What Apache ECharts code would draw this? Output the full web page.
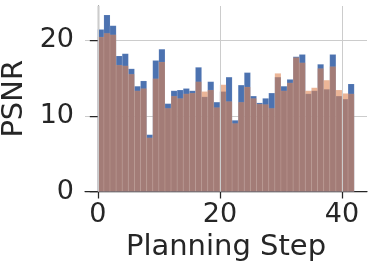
<!DOCTYPE html>
<html>
<head>
<meta charset="utf-8">
<script src="https://cdn.jsdelivr.net/npm/echarts@6/dist/echarts.min.js"></script>
<style>html,body{margin:0;padding:0;background:#fff}#c{width:374px;height:268px}</style>
</head>
<body>
<div id="c"></div>
<script>
// Bin left edges (Planning Step), bin width 1
const steps = [0,1,2,3,4,5,6,7,8,9,10,11,12,13,14,15,16,17,18,19,20,21,22,23,24,25,26,27,28,29,30,31,32,33,34,35,36,37,38,39,40,41];
const blueValues = [21.4,23.3,21.9,17.9,18.2,16.2,13.9,14.6,7.5,17.3,18.8,11.6,13.3,13.4,13.6,13.3,16.4,12.5,14.5,11.8,13.2,15.1,9.4,14.05,15.7,12.6,11.7,12.3,13.0,15.1,13.9,14.8,17.8,18.1,12.9,13.3,16.8,13.5,18.1,12.6,12.2,14.2];
const orangeValues = [20.4,20.9,20.7,16.7,16.6,15.5,13.3,13.6,7.1,14.9,17.1,11.0,12.6,12.3,12.9,13.0,14.5,13.2,13.4,11.1,14.1,11.9,9.0,11.8,13.8,12.3,11.55,11.5,11.0,15.6,13.3,14.35,17.7,17.0,13.3,13.7,16.25,14.7,16.5,13.4,12.95,12.9];
const xTicks = [0,20,40];
const yTicks = [0,10,20];
const xLabel = 'Planning Step';
const yLabel = 'PSNR';

const font = 'DejaVu Sans';
const textColor = '#262626';
const gridColor = '#cccccc';

function histItem(color, opacity) {
  return function (params, api) {
    const x0 = api.value(0);
    const v = api.value(1);
    const p0 = api.coord([x0, 0]);
    const p1 = api.coord([x0 + 1, v]);
    return {
      type: 'rect',
      shape: { x: p0[0], y: p1[1], width: p1[0] - p0[0], height: p0[1] - p1[1] },
      style: { fill: color, opacity: opacity, stroke: 'rgba(255,255,255,0.18)', lineWidth: 0.5 }
    };
  };
}

const chart = echarts.init(document.getElementById('c'), null, { renderer: 'canvas' });
chart.setOption({
  animation: false,
  backgroundColor: '#ffffff',
  grid: { left: 85, right: 7, top: 6, bottom: 76.5, containLabel: false, outerBoundsMode: 'none' },
  xAxis: {
    type: 'value', min: -2.1, max: 44.1,
    name: xLabel, nameLocation: 'middle', nameGap: 38,
    nameTextStyle: { fontFamily: font, fontSize: 29, color: textColor },
    axisLine: { show: true, onZero: false, lineStyle: { color: textColor, width: 1.25 } },
    axisTick: { show: true, length: 7, lineStyle: { color: textColor, width: 1.25 }, customValues: xTicks },
    axisLabel: { fontFamily: font, fontSize: 27, color: textColor, margin: 10, customValues: xTicks },
    splitLine: { show: false }
  },
  yAxis: {
    type: 'value', min: 0, max: 24.5, interval: 10,
    name: yLabel, nameLocation: 'middle', nameGap: 56, nameRotate: 90,
    nameTextStyle: { fontFamily: font, fontSize: 29, color: textColor },
    axisLine: { show: true, lineStyle: { color: textColor, width: 1.25 } },
    axisTick: { show: true, length: 8, lineStyle: { color: textColor, width: 1.25 }, customValues: yTicks },
    axisLabel: { fontFamily: font, fontSize: 27, color: textColor, margin: 11, customValues: yTicks },
    splitLine: { show: true, lineStyle: { color: gridColor, width: 1 } }
  },
  series: [
    {
      type: 'line', data: [], z: 1, silent: true,
      markLine: {
        silent: true, symbol: 'none', label: { show: false },
        lineStyle: { color: gridColor, width: 1, type: 'solid' },
        data: xTicks.map(v => ({ xAxis: v }))
      }
    },
    {
      type: 'custom', name: 'blue', z: 2,
      renderItem: histItem('#4C72B0', 1),
      encode: { x: 0, y: 1 },
      data: steps.map((s, i) => [s, blueValues[i]])
    },
    {
      type: 'custom', name: 'orange', z: 3,
      renderItem: histItem('#DD8452', 0.6),
      encode: { x: 0, y: 1 },
      data: steps.map((s, i) => [s, orangeValues[i]])
    }
  ]
});
</script>
</body>
</html>
